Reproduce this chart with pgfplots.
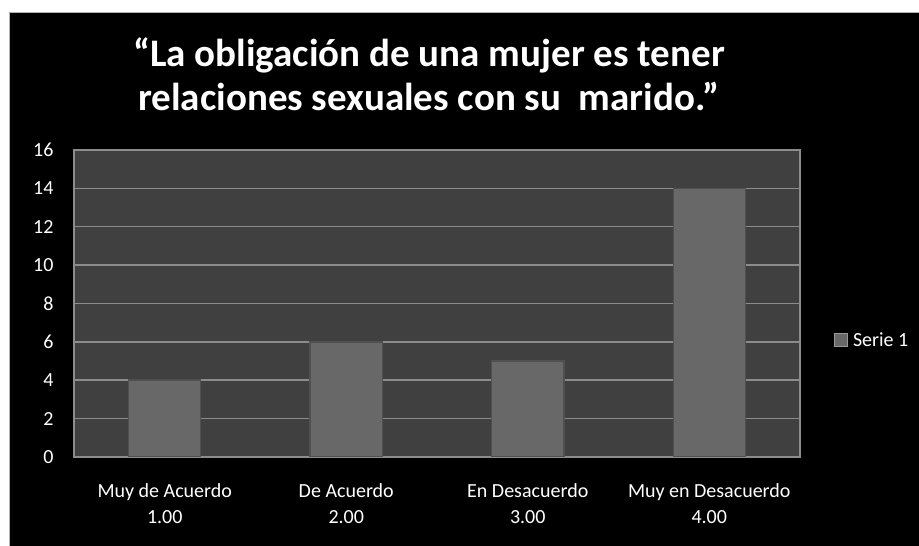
\documentclass[border=0pt]{standalone}
\usepackage{fontspec}
\setmainfont{Carlito}
\usepackage{pgfplots}
\pgfplotsset{compat=1.18}
\definecolor{plotbg}{HTML}{404040}
\definecolor{gridc}{HTML}{8C8C8C}
\definecolor{barc}{HTML}{686868}
\definecolor{bard}{HTML}{505050}
\begin{document}
\begin{tikzpicture}[x=1pt,y=1pt]
\fill[white] (0,0) rectangle (919,546);
\fill[black] (9,0) rectangle (919,533);
\draw[gray!60, line width=1pt] (9.5,0) -- (9.5,533) -- (919,533);
\node[anchor=base, text=white, font=\bfseries\fontsize{39}{44}\selectfont] at (429,479) {“La obligación de una mujer es tener};
\node[anchor=base, text=white, font=\bfseries\fontsize{39}{44}\selectfont] at (429,435) {relaciones sexuales con su\ \ marido.”};
\begin{axis}[
  at={(74pt,89pt)}, anchor=south west,
  scale only axis, width=726pt, height=307pt,
  xmin=0.5, xmax=4.5, ymin=0, ymax=16,
  xtick={1,2,3,4},
  xticklabels={{Muy de Acuerdo\\1.00},{De Acuerdo\\2.00},{En Desacuerdo\\3.00},{Muy en Desacuerdo\\4.00}},
  xticklabel style={align=center, font=\fontsize{20}{26}\selectfont, text=white, yshift=-23pt},
  ytick={0,2,...,16},
  yticklabel style={font=\fontsize{20}{24}\selectfont, text=white, xshift=-17pt},
  /pgf/number format/assume math mode=true,
  major tick length=0pt,
  ymajorgrids, grid style={gridc, line width=1.5pt},
  axis line style={gridc, line width=1.5pt},
  axis background/.style={fill=plotbg},
  legend style={at={(1.043,0.381)}, anchor=west, draw=none, fill=none, text=white, font=\fontsize{20}{24}\selectfont},
  legend cell align=left,
]
\addplot[ybar, bar width=72pt, fill=barc, draw=bard, line width=1.5pt,
  legend image code/.code={\fill[barc, draw=gray!80, line width=0.6pt] (0pt,-6.5pt) rectangle (13pt,6.5pt);}]
  coordinates {(1,4) (2,6) (3,5) (4,14)};
\legend{\hspace{3pt}Serie 1}
\end{axis}
\pgfresetboundingbox
\useasboundingbox (0,0) rectangle (919,546);
\end{tikzpicture}
\end{document}
